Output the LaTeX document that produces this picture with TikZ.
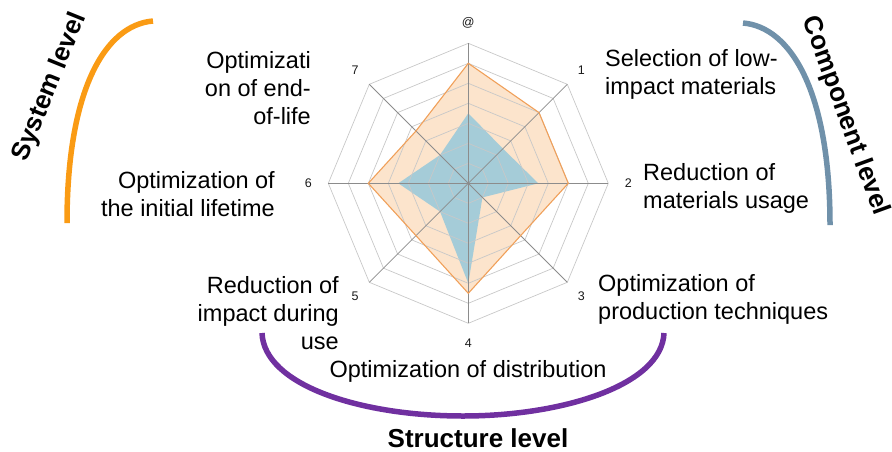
\documentclass[tikz,border=0pt]{standalone}
\usepackage{fontspec}
\setmainfont{Liberation Sans}
\usetikzlibrary{positioning,calc}

\definecolor{sysorange}{RGB}{250,155,20}
\definecolor{compblue}{RGB}{112,145,170}
\definecolor{structpurple}{RGB}{112,48,160}
\definecolor{seriesline}{RGB}{240,160,90}
\definecolor{seriesfill}{RGB}{252,228,204}
\definecolor{basefill}{RGB}{165,204,216}
\definecolor{ringgray}{RGB}{200,200,200}
\definecolor{spokegray}{RGB}{140,140,140}

\tikzset{
  txt/.style={inner sep=0pt, font=\fontsize{23.5}{28}\selectfont},
  lvl/.style={inner sep=0pt, font=\fontsize{26}{30}\selectfont\bfseries},
  numlbl/.style={inner sep=0pt, font=\fontsize{12.5}{14}\selectfont, text=black!90},
  ring/.style={draw=ringgray, line width=0.7pt},
  spoke/.style={draw=spokegray, line width=0.8pt},
  bracket/.style={line width=5.5pt}
}

\begin{document}
\begin{tikzpicture}[x=1pt,y=-1pt]
	\useasboundingbox (0,0) rectangle (892,451);
	\coordinate (ctr) at (468.3,183.3);

	% radar chart
	\begin{scope}[shift={(ctr)},y=1pt]
	\fill[seriesfill] (90:120) -- (45:100) -- (0:100) -- (-45:74) -- (-90:110) -- (-135:74) -- (180:100) -- (135:74) -- cycle;
	\fill[basefill] (90:70) -- (45:49) -- (0:70) -- (-45:20) -- (-90:100) -- (-135:40) -- (180:70) -- (135:40) -- cycle;
	\foreach \r in {20,40,...,140}
		\draw[ring] (90:\r) -- (45:\r) -- (0:\r) -- (-45:\r) -- (-90:\r) -- (-135:\r) -- (180:\r) -- (135:\r) -- cycle;
	\foreach \a in {90,45,...,-225}
		\draw[spoke] (0,0) -- (\a:140);
	\draw[seriesline, line width=1.1pt] (90:120) -- (45:100) -- (0:100) -- (-45:74) -- (-90:110) -- (-135:74) -- (180:100) -- (135:74) -- cycle;
	\foreach \k/\lab in {0/@,1/1,2/2,3/3,4/4,5/5,6/6,7/7}
		\node at ({90-45*\k}:160)[numlbl] (n\k) {\lab};
	\end{scope}

	% criteria
	\node at (311,88)[txt,anchor=east,align=right] (endlife) {Optimizati\\on of end-\\of-life};
	\node at (275,194)[txt,anchor=east,align=right] (lifetime) {Optimization of\\the initial lifetime};
	\node at (339,313)[txt,anchor=east,align=right] (useimp) {Reduction of\\impact during\\use};
	\node at (605,74)[txt,anchor=west,align=left] (lowimp) {Selection of low-\\impact materials};
	\node at (643,188)[txt,anchor=west,align=left] (matuse) {Reduction of\\materials usage};
	\node at (598,299)[txt,anchor=west,align=left] (prodtech) {Optimization of\\production techniques};
	\node at (468,377)[txt,anchor=base] (distrib) {Optimization of distribution};

	% levels
	\draw[bracket, sysorange] (153,21) .. controls (105,25) and (67,90) .. (67,223);
	\draw[bracket, compblue] (743,23) .. controls (791,27) and (830,92) .. (830,225);
	\draw[bracket, structpurple] (262,333) .. controls (264,385) and (360,416) .. (463,416)
		.. controls (563,416) and (662,385) .. (664,333);
	\node at (50,87)[lvl,rotate=68] (syslvl) {System level};
	\node at (845,116)[lvl,rotate=-70] (complvl) {Component level};
	\node at (478,447)[lvl,anchor=base] (structlvl) {Structure level};
\end{tikzpicture}
\end{document}
